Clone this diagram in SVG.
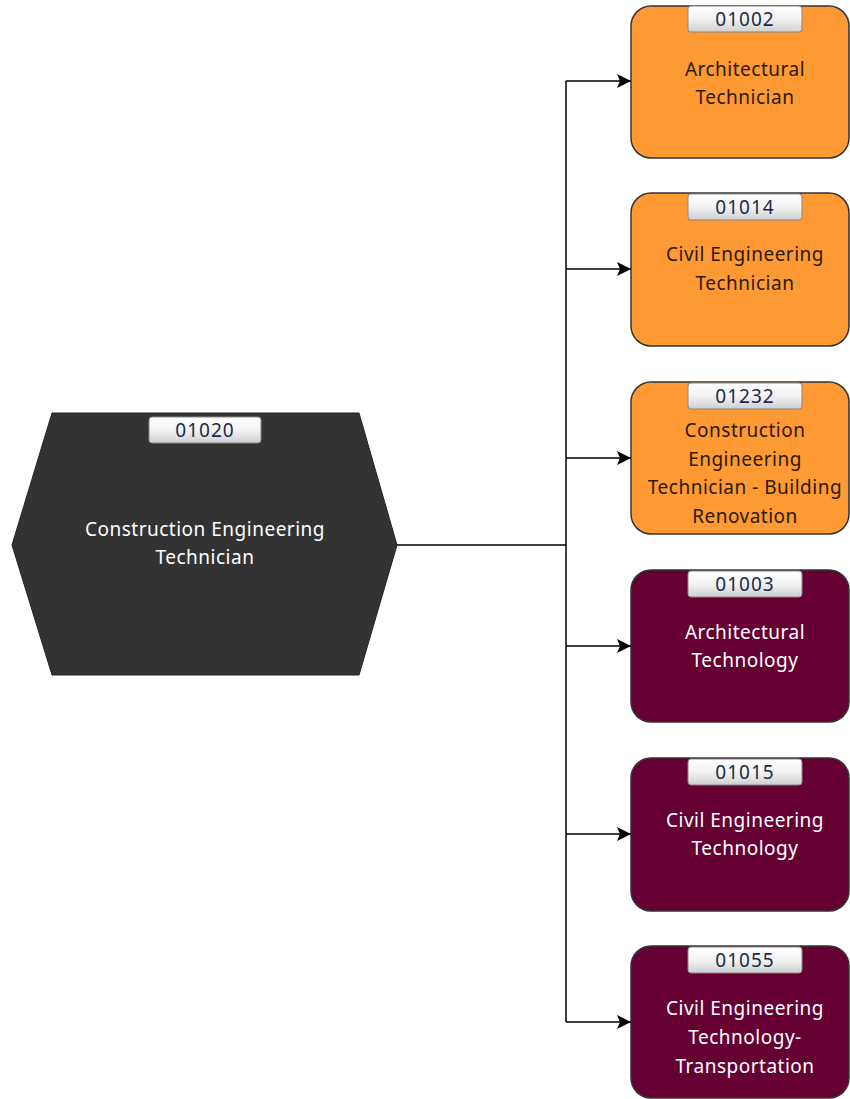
<svg xmlns="http://www.w3.org/2000/svg" width="850" height="1099" viewBox="0 0 850 1099">
<defs>
<linearGradient id="bg" x1="0" y1="0" x2="0" y2="1">
<stop offset="0" stop-color="#ffffff"/>
<stop offset="0.5" stop-color="#f2f2f2"/>
<stop offset="1" stop-color="#cfcfcf"/>
</linearGradient>
<marker id="arr" viewBox="0 0 14 14" refX="14" refY="7" markerWidth="14" markerHeight="14" markerUnits="userSpaceOnUse" orient="auto">
<path d="M0,0 L14,7 L0,14 L3,7 z" fill="#000"/>
</marker>
</defs>
<style>
.t{font-family:"Noto Sans","Liberation Sans",sans-serif;font-size:19px;letter-spacing:0.5px;text-anchor:middle}
.or{fill:#FF9933;stroke:#333;stroke-width:1.5}
.mr{fill:#660033;stroke:#333;stroke-width:1.5}
.badge{fill:url(#bg);stroke:#888;stroke-width:1}
.bt{fill:#1c2b4a;letter-spacing:1px}
.dk{fill:#2a1a00}
.wt{fill:#ffffff}
.c{fill:none;stroke:#000;stroke-width:1.5}
</style>
<g id="connectors">
<path class="c" d="M397,545 H566"/>
<path class="c" d="M566,81 V1022"/>
<path class="c" d="M566,81 H631" marker-end="url(#arr)"/>
<path class="c" d="M566,269 H631" marker-end="url(#arr)"/>
<path class="c" d="M566,458 H631" marker-end="url(#arr)"/>
<path class="c" d="M566,646 H631" marker-end="url(#arr)"/>
<path class="c" d="M566,834 H631" marker-end="url(#arr)"/>
<path class="c" d="M566,1022 H631" marker-end="url(#arr)"/>
</g>
<g id="n01020">
<polygon points="52,413 359,413 397,545 359,675 52,675 12,545" fill="#333333" stroke="#222" stroke-width="1"/>
<rect class="badge" x="149" y="417" width="112" height="26" rx="3"/>
<text class="t bt" x="205" y="437">01020</text>
<text class="t wt" x="205" y="536">Construction Engineering</text>
<text class="t wt" x="205" y="564">Technician</text>
</g>
<g id="n01002">
<rect class="or" x="631" y="6" width="218" height="152" rx="20"/>
<rect class="badge" x="688" y="6" width="114" height="26" rx="3"/>
<text class="t bt" x="745" y="26">01002</text>
<text class="t dk" x="745" y="76">Architectural</text>
<text class="t dk" x="745" y="104">Technician</text>
</g>
<g id="n01014">
<rect class="or" x="631" y="193" width="218" height="153" rx="20"/>
<rect class="badge" x="688" y="194" width="114" height="26" rx="3"/>
<text class="t bt" x="745" y="214">01014</text>
<text class="t dk" x="745" y="261">Civil Engineering</text>
<text class="t dk" x="745" y="290">Technician</text>
</g>
<g id="n01232">
<rect class="or" x="631" y="382" width="218" height="152" rx="20"/>
<rect class="badge" x="688" y="383" width="114" height="26" rx="3"/>
<text class="t bt" x="745" y="403">01232</text>
<text class="t dk" x="745" y="437">Construction</text>
<text class="t dk" x="745" y="466">Engineering</text>
<text class="t dk" x="745" y="494">Technician - Building</text>
<text class="t dk" x="745" y="523">Renovation</text>
</g>
<g id="n01003">
<rect class="mr" x="631" y="570" width="218" height="152" rx="20"/>
<rect class="badge" x="688" y="571" width="114" height="26" rx="3"/>
<text class="t bt" x="745" y="591">01003</text>
<text class="t wt" x="745" y="639">Architectural</text>
<text class="t wt" x="745" y="667">Technology</text>
</g>
<g id="n01015">
<rect class="mr" x="631" y="758" width="218" height="153" rx="20"/>
<rect class="badge" x="688" y="759" width="114" height="26" rx="3"/>
<text class="t bt" x="745" y="779">01015</text>
<text class="t wt" x="745" y="827">Civil Engineering</text>
<text class="t wt" x="745" y="855">Technology</text>
</g>
<g id="n01055">
<rect class="mr" x="631" y="946" width="218" height="152" rx="20"/>
<rect class="badge" x="688" y="947" width="114" height="26" rx="3"/>
<text class="t bt" x="745" y="967">01055</text>
<text class="t wt" x="745" y="1015">Civil Engineering</text>
<text class="t wt" x="745" y="1044">Technology-</text>
<text class="t wt" x="745" y="1073">Transportation</text>
</g>
</svg>
